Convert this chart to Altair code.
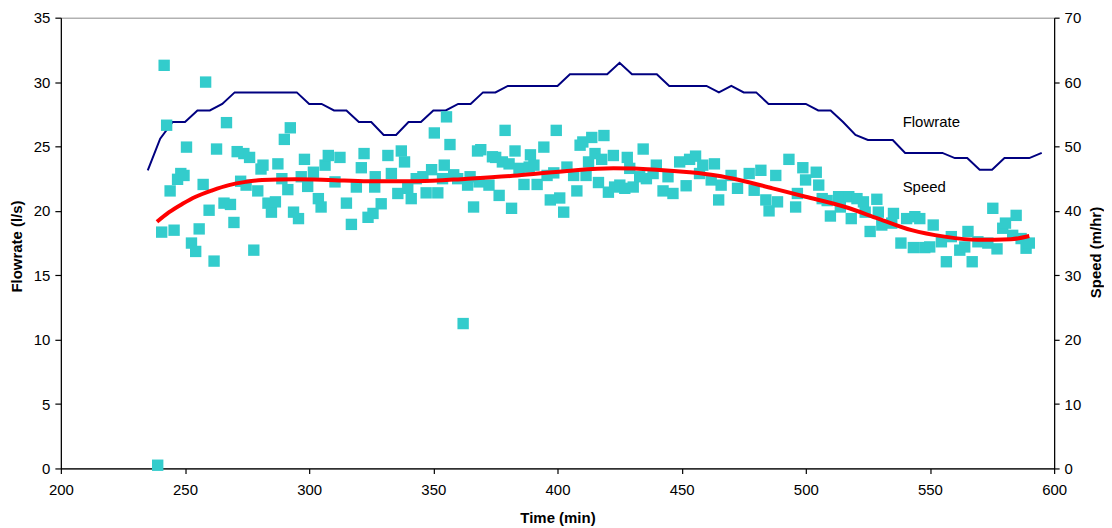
import altair as alt
import pandas as pd

# Flowrate (l/s), sampled every 5 minutes
flow_time = list(range(235, 600, 5))
flow_rate = [23.15, 25.6, 26.9, 26.9, 27.8, 27.8, 28.3, 29.2, 29.2, 29.2,
             29.2, 29.2, 29.2, 28.3, 28.3, 27.8, 27.8, 26.9, 26.9, 25.9,
             25.9, 26.9, 26.9, 27.8, 27.8, 28.3, 28.3, 29.2, 29.2, 29.7,
             29.7, 29.7, 29.7, 29.7, 30.6, 30.6, 30.6, 30.6, 31.5, 30.6,
             30.6, 30.6, 29.7, 29.7, 29.7, 29.7, 29.2, 29.7, 29.2, 29.2,
             28.3, 28.3, 28.3, 28.3, 27.8, 27.8, 26.9, 25.9, 25.5, 25.5,
             25.5, 24.5, 24.5, 24.5, 24.5, 24.1, 24.1, 23.2, 23.2, 24.1,
             24.1, 24.1, 24.5]

# Speed (m/hr) observations
speed_time = [239.0, 240.6, 241.6, 242.6, 244.0, 245.6, 247.0, 248.3, 249.6, 250.6,
              252.6, 254.3, 255.7, 257.3, 258.3, 259.7, 261.7, 262.7, 265.7, 266.7,
              268.3, 269.7, 271.0, 272.4, 273.7, 274.6, 276.0, 277.7, 279.3, 280.6,
              281.4, 283.4, 284.8, 286.4, 287.4, 289.0, 290.0, 291.4, 292.4, 293.7,
              295.7, 296.8, 298.1, 299.4, 301.7, 303.7, 304.8, 306.4, 307.7, 310.4,
              312.4, 315.0, 317.0, 319.0, 321.0, 322.1, 323.7, 325.7, 326.4, 326.6,
              329.0, 331.7, 333.1, 335.7, 337.1, 338.4, 339.7, 341.1, 343.1, 345.8,
              347.1, 349.3, 350.4, 351.8, 353.7, 354.4, 355.3, 356.7, 358.2, 359.8,
              362.0, 363.8, 364.8, 366.2, 367.8, 368.4, 369.1, 372.4, 373.8, 375.1,
              376.5, 377.8, 378.9, 380.5, 381.5, 382.9, 384.5, 386.5, 389.1, 388.6,
              390.5, 391.8, 394.5, 395.8, 397.1, 398.5, 399.5, 400.9, 402.5, 403.8,
              406.5, 407.8, 409.1, 410.2, 411.5, 412.5, 413.8, 415.1, 416.5, 417.8,
              418.7, 420.5, 422.5, 423.0, 425.1, 427.1, 428.1, 429.1, 430.5, 433.1,
              434.5, 435.8, 438.5, 439.8, 442.5, 444.5, 446.5, 449.2, 451.8, 453.2,
              455.6, 457.2, 458.5, 461.9, 463.2, 464.9, 465.9, 469.9, 472.5, 477.2,
              479.2, 481.9, 483.9, 485.2, 487.9, 488.6, 493.2, 495.9, 496.6, 498.8,
              499.9, 504.2, 505.2, 506.6, 508.6, 509.9, 513.2, 513.9, 517.3, 518.3,
              520.6, 523.2, 523.9, 525.9, 528.6, 529.2, 530.6, 534.6, 535.3, 538.3,
              540.6, 543.3, 543.9, 545.9, 547.9, 549.9, 551.3, 554.6, 556.6, 558.6,
              562.0, 564.0, 565.3, 567.0, 569.3, 573.3, 575.3, 577.0, 579.3, 580.4,
              583.3, 584.7, 586.7, 588.7, 590.0]
speed_value = [0.5, 36.7, 62.6, 53.3, 43.1, 37.0, 44.9, 45.8, 45.5, 49.9,
               35.0, 33.7, 37.2, 44.1, 60.0, 40.1, 32.2, 49.6, 41.2, 53.7,
               41.0, 38.2, 49.2, 44.6, 48.9, 44.0, 48.3, 33.9, 43.1, 46.5,
               47.1, 41.2, 39.8, 41.4, 47.3, 45.0, 51.1, 43.3, 52.9, 39.8,
               38.8, 45.3, 48.0, 43.8, 46.0, 41.9, 40.6, 47.1, 48.6, 44.5,
               48.3, 41.2, 37.9, 43.7, 46.7, 48.9, 39.0, 39.6, 43.7, 45.3,
               41.1, 48.6, 45.8, 42.7, 49.3, 47.6, 43.5, 41.9, 45.0, 45.3,
               42.8, 46.4, 52.1, 42.8, 45.0, 47.1, 54.6, 50.3, 45.6, 45.0,
               22.5, 44.0, 45.3, 40.6, 49.3, 44.5, 49.5, 44.0, 48.4, 48.3,
               42.4, 47.6, 52.5, 47.3, 40.4, 49.3, 46.6, 44.1, 48.7, 46.8,
               47.1, 44.1, 49.9, 45.5, 41.7, 45.9, 52.5, 42.0, 39.8, 46.8,
               45.5, 43.1, 50.2, 50.7, 45.5, 47.6, 51.4, 48.9, 44.4, 48.0,
               51.7, 42.9, 48.6, 43.7, 44.0, 43.5, 48.3, 46.6, 43.7, 45.3,
               49.6, 45.0, 45.8, 47.1, 43.1, 45.3, 42.7, 47.6, 43.9, 48.0,
               48.5, 45.8, 47.1, 44.8, 47.3, 41.7, 44.0, 45.5, 43.5, 45.8,
               43.2, 46.3, 41.7, 40.0, 45.5, 41.4, 48.0, 40.6, 42.7, 46.7,
               44.8, 46.0, 44.0, 41.9, 41.6, 39.2, 42.2, 40.6, 42.2, 38.8,
               41.9, 41.4, 39.8, 36.8, 41.8, 39.8, 37.8, 38.1, 39.6, 35.0,
               38.8, 34.3, 39.1, 38.8, 34.3, 34.4, 37.8, 35.2, 32.1, 36.0,
               33.9, 34.4, 36.8, 32.1, 35.2, 35.0, 40.4, 34.1, 37.3, 38.1,
               36.2, 39.3, 35.7, 34.2, 35.0]

# Speed trend line
trend_time = [238.7, 243.6, 249.0, 254.3, 261.0, 267.7, 274.4, 281.0, 294.4, 307.7,
              323.7, 343.7, 363.8, 383.8, 403.8, 422.5, 439.8, 453.2, 463.9, 473.2,
              486.6, 499.9, 515.9, 529.2, 542.6, 555.9, 569.3, 582.6, 590.0]
trend_value = [38.3, 39.8, 41.1, 42.2, 43.2, 44.0, 44.5, 44.8, 44.9, 44.8,
               44.6, 44.6, 45.0, 45.5, 46.2, 46.6, 46.4, 46.0, 45.5, 44.8,
               43.5, 42.2, 40.6, 38.8, 37.0, 36.0, 35.5, 35.6, 36.1]

# In-chart labels
flow_label = ["Flowrate"]
flow_label_time = [539]
flow_label_value = [26.9]
speed_label = ["Speed"]
speed_label_time = [539]
speed_label_value = [43.7]

FONT = "Liberation Sans"

flow_df = pd.DataFrame({"t": flow_time, "flow": flow_rate})
speed_df = pd.DataFrame({"t": speed_time, "speed": speed_value})
trend_df = pd.DataFrame({"t": trend_time, "speed": trend_value})
flow_lab_df = pd.DataFrame({"t": flow_label_time, "flow": flow_label_value, "label": flow_label})
speed_lab_df = pd.DataFrame({"t": speed_label_time, "speed": speed_label_value, "label": speed_label})

x_scale = alt.Scale(domain=[200, 600], nice=False, zero=False)
x_axis = alt.Axis(title="Time (min)", values=list(range(200, 601, 50)),
                  grid=False, tickSize=5, labelPadding=9, labelFlush=False,
                  titleX=498, titleY=49, titleBaseline="middle")
x_enc = alt.X("t:Q", scale=x_scale, axis=x_axis)

flow_scale = alt.Scale(domain=[0, 35], nice=False, zero=True)
speed_scale = alt.Scale(domain=[0, 70], nice=False, zero=True)

flow_axis = alt.Axis(title="Flowrate (l/s)", orient="left", values=list(range(0, 36, 5)),
                     grid=False, tickSize=6, labelPadding=5, labelFlush=False,
                     titleX=-44, titleY=229, titleAngle=270,
                     titleAlign="center", titleBaseline="middle")
speed_axis = alt.Axis(title="Speed (m/hr)", orient="right", values=list(range(0, 71, 10)),
                      grid=False, tickSize=5, labelPadding=5, labelFlush=False,
                      titleX=41, titleY=235, titleAngle=270,
                      titleAlign="center", titleBaseline="middle")

flow_line = alt.Chart(flow_df).mark_line(color="#000080", strokeWidth=2).encode(
    x=x_enc,
    y=alt.Y("flow:Q", scale=flow_scale, axis=flow_axis),
)
flow_text = alt.Chart(flow_lab_df).mark_text(
    align="left", baseline="middle", fontSize=15, font=FONT, color="black"
).encode(x=x_enc, y=alt.Y("flow:Q", scale=flow_scale, axis=flow_axis), text="label:N")

scatter = alt.Chart(speed_df).mark_square(size=130, color="#33CCCC", opacity=1).encode(
    x=x_enc,
    y=alt.Y("speed:Q", scale=speed_scale, axis=speed_axis),
)
trend = alt.Chart(trend_df).mark_line(color="#FF0000", strokeWidth=4, interpolate="monotone").encode(
    x=x_enc, y=alt.Y("speed:Q", scale=speed_scale, axis=speed_axis)
)
speed_text = alt.Chart(speed_lab_df).mark_text(
    align="left", baseline="middle", fontSize=15, font=FONT, color="black"
).encode(x=x_enc, y=alt.Y("speed:Q", scale=speed_scale, axis=speed_axis), text="label:N")

left = alt.layer(flow_line, flow_text)
right = alt.layer(scatter, trend, speed_text)

chart = alt.layer(left, right).resolve_scale(y="independent").properties(
    width=996, height=452,
    autosize=alt.AutoSizeParams(type="none"),
    padding={"left": 53, "top": 9, "right": 50, "bottom": 58},
).configure_view(
    stroke="#8c8c8c", strokeWidth=1
).configure_axis(
    labelFont=FONT, labelFontSize=15, labelColor="black",
    titleFont=FONT, titleFontSize=15, titleFontWeight="bold", titleColor="black",
    domainColor="black", tickColor="black", domainWidth=1.2, tickWidth=1.2,
)

chart.save("out.html", embed_options={"renderer": "svg", "actions": False})
